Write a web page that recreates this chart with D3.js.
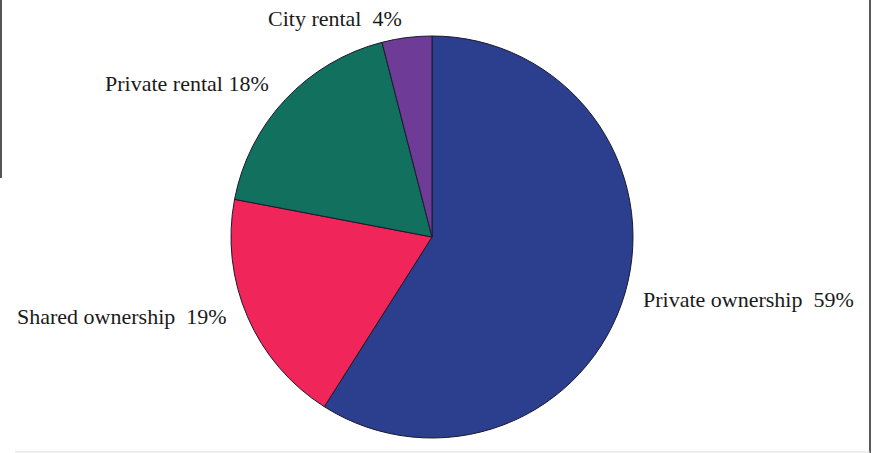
<!DOCTYPE html>
<html><head><meta charset="utf-8">
<script src="https://cdn.jsdelivr.net/npm/d3@7"></script>
<style>html,body{margin:0;padding:0;background:#fff;}svg{display:block;}
text.lbl{font-family:"Liberation Serif","Times New Roman",serif;}</style>
</head><body>
<svg id="c" width="874" height="453"></svg>
<script>
const categories = ["Private ownership", "Shared ownership", "Private rental", "City rental"];
const values = [59, 19, 18, 4];
const labels = ["Private ownership  59%", "Shared ownership  19%", "Private rental 18%", "City rental  4%"];
const colors = ["#2c3e8e", "#f0265a", "#12705f", "#6e3c96"];

const svg = d3.select("#c");
const cx = 432, cy = 237, r = 201;

// scan frame remnants
svg.append("line").attr("x1",1).attr("x2",1).attr("y1",0).attr("y2",178).attr("stroke","#555").attr("stroke-width",2);
svg.append("line").attr("x1",870).attr("x2",870).attr("y1",0).attr("y2",453).attr("stroke","#222").attr("stroke-width",1.5);
svg.append("line").attr("x1",15).attr("x2",870).attr("y1",452).attr("y2",452).attr("stroke","#ddd").attr("stroke-width",1);

const pie = d3.pie().sort(null).value(d => d)(values);
const arc = d3.arc().innerRadius(0).outerRadius(r);
const g = svg.append("g").attr("transform", `translate(${cx},${cy})`);
g.selectAll("path").data(pie).enter().append("path")
  .attr("d", arc)
  .attr("fill", (d,i) => colors[i])
  .attr("stroke", "#1a1a2a").attr("stroke-width", 1);

const labelPos = [
  {x: 643, y: 307},
  {x: 17, y: 324},
  {x: 105, y: 91},
  {x: 268, y: 26}
];
svg.selectAll("text.lbl").data(labels).enter().append("text")
  .attr("class","lbl")
  .attr("x", (d,i) => labelPos[i].x)
  .attr("y", (d,i) => labelPos[i].y)
  .attr("font-size", 22)
  .attr("fill", "#1a1a1a")
  .attr("xml:space", "preserve")
  .style("white-space", "pre")
  .text(d => d);
</script>
</body></html>
